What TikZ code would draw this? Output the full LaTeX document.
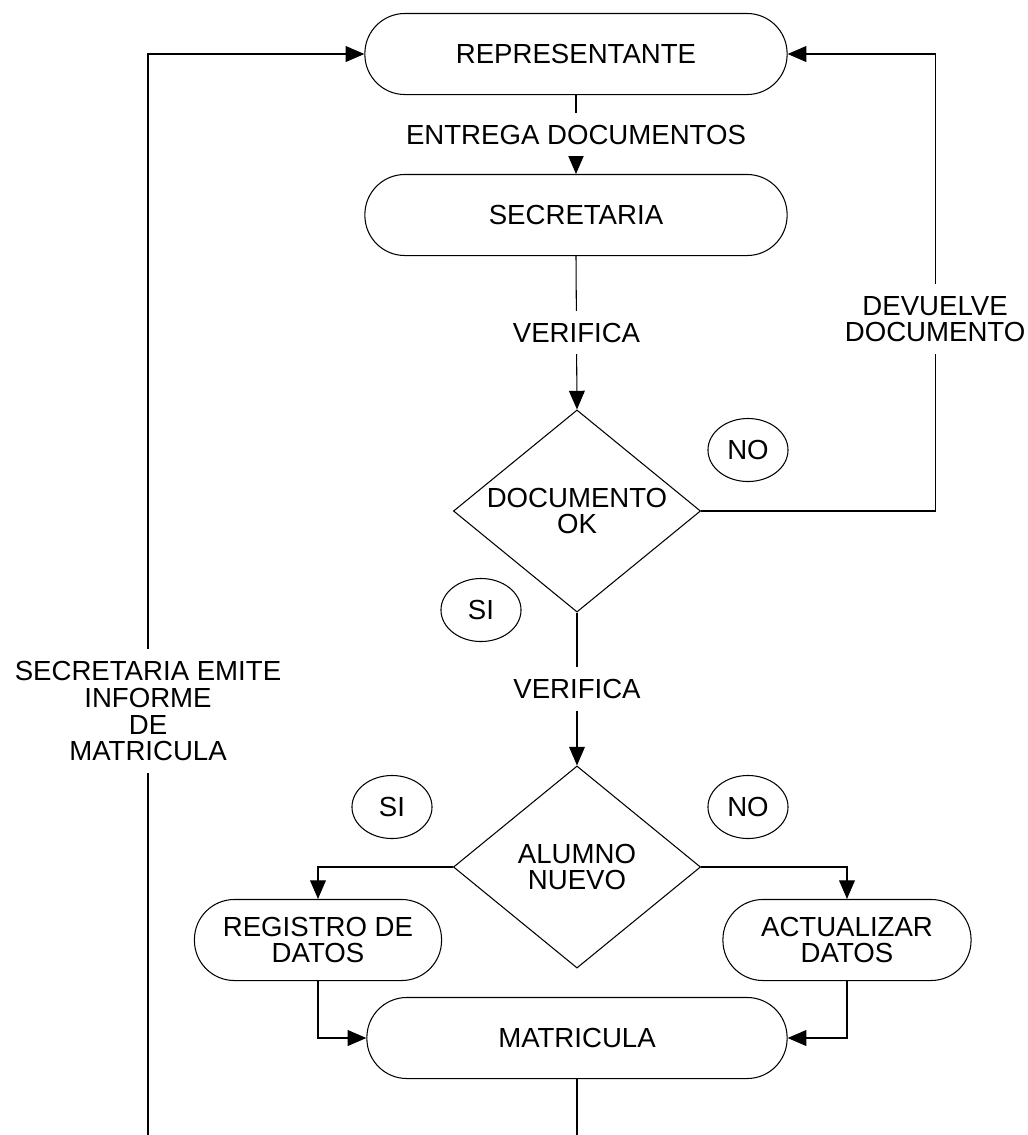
\documentclass[tikz,border=0pt]{standalone}
\usepackage{fontspec}
\setmainfont{Liberation Sans}
\usepackage{tikz}
\usetikzlibrary{shapes.geometric,arrows.meta}

\begin{document}
\begin{tikzpicture}[x=0.01cm, y=-0.01cm, line width=0.3pt,
    every node/.style={font=\fontsize{7.85}{7.6}\selectfont, align=center, inner sep=0pt},
    proc/.style={draw, rectangle, rounded corners=0.4cm, minimum height=0.81cm},
    cond/.style={draw, diamond, aspect=1.22, minimum width=2.47cm, minimum height=2.02cm},
    resp/.style={draw, ellipse, minimum width=0.8cm, minimum height=0.63cm},
    lbl/.style={fill=white, inner xsep=1.5pt, inner ysep=3.4pt},
    arr/.style={-{Triangle[length=5.3pt,width=4.5pt]}}]
    \useasboundingbox (0,0) rectangle (1028,1135);

    % Process boxes
    \node[proc, minimum width=4.22cm] (rep) at (576,54) {REPRESENTANTE};
    \node[proc, minimum width=4.22cm] (sec) at (576,215) {SECRETARIA};
    \node[proc, minimum width=2.47cm] (reg) at (318,940) {REGISTRO DE\\DATOS};
    \node[proc, minimum width=2.48cm] (act) at (847,940) {ACTUALIZAR\\DATOS};
    \node[proc, minimum width=4.20cm] (mat) at (577,1038) {MATRICULA};

    % Decisions
    \node[cond] (doc) at (577,511) {DOCUMENTO\\OK};
    \node[cond] (alu) at (577,867) {ALUMNO\\NUEVO};

    % Answers
    \node[resp] (no1) at (748,450) {NO};
    \node[resp] (si1) at (481,610) {SI};
    \node[resp] (si2) at (392,807) {SI};
    \node[resp] (no2) at (748,807) {NO};

    % Open ends at the bottom
    \coordinate (bl) at (148,1135);
    \coordinate (bm) at (577,1135);

    % Main flow
    \draw[arr] (rep.south) -- node[lbl] {ENTREGA DOCUMENTOS} (sec.north);
    \draw[arr] (sec.south) -- node[lbl] {VERIFICA} (doc.north);
    \draw[arr] (doc.south) -- node[lbl] {VERIFICA} (alu.north);
    \draw[arr] (doc.east) -- ++(234,0) |- node[pos=0.21, lbl] {DEVUELVE\\DOCUMENTO} (rep.east);

    % Branches of the second decision
    \draw[arr] (alu.west) -| (reg.north);
    \draw[arr] (alu.east) -| (act.north);
    \draw[arr] (reg.south) |- (mat.west);
    \draw[arr] (act.south) |- (mat.east);

    % Back to the start
    \draw (mat.south) -- (bm);
    \draw[arr] (bl) |- node[pos=0.196, lbl] {SECRETARIA EMITE\\INFORME\\DE\\MATRICULA} (rep.west);
\end{tikzpicture}
\end{document}
